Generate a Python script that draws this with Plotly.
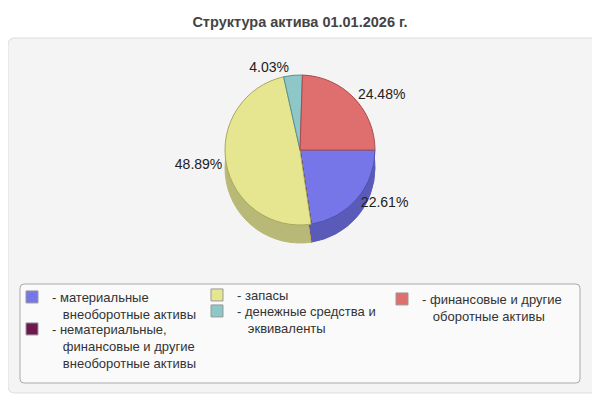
import plotly.graph_objects as go

# the page puts the figure 8px in from the top left corner
OFF = 8
W, H = 600 - OFF, 400 - OFF

title = "Структура актива 01.01.2026 г."
labels = [
    "материальные<br>внеоборотные активы",
    "нематериальные,<br>финансовые и другие<br>внеоборотные активы",
    "запасы",
    "денежные средства и<br>эквиваленты",
    "финансовые и другие<br>оборотные активы",
]
values = [22.61, 0, 48.89, 4.03, 24.48]
colors = ["#7676e9", "#6f1850", "#e6e691", "#8dc7c7", "#df6f6f"]
# sides of the back slices are hidden, the last one is the blue rim near 3 o'clock
side_colors = ["#5a5ab9", "#50103a", "#b9b977", "#6fa0a0", "#5a5ab9"]
edge_colors = ["#5050b0", "#4a0e34", "#a8a860", "#5f9090", "#a84c4c"]


def px_x(x):
    return max(x - OFF, 0) / W


def px_y(y):
    return 1 - max(y - OFF, 0) / H


def rounded_rect(x0, y0, x1, y1, r):
    # path in paper units, corners given in page pixels
    rx, ry = r / W, r / H
    a, b, c, d = px_x(x0), px_y(y0), px_x(x1), px_y(y1)
    return (f"M{a + rx},{b} L{c - rx},{b} Q{c},{b} {c},{b - ry} "
            f"L{c},{d + ry} Q{c},{d} {c - rx},{d} L{a + rx},{d} "
            f"Q{a},{d} {a},{d + ry} L{a},{b - ry} Q{a},{b} {a + rx},{b} Z")


texts = [f"{v:.2f}%" if v else "" for v in values]

fig = go.Figure()

# darker copy shifted down gives the pie some depth
fig.add_trace(go.Pie(
    values=values, labels=labels, sort=False, direction="clockwise", rotation=90,
    marker=dict(colors=side_colors, line=dict(color=side_colors, width=1)),
    textinfo="none", hoverinfo="skip", showlegend=False,
    domain=dict(x=[px_x(225), px_x(375)], y=[px_y(243), px_y(93)]),
))
fig.add_trace(go.Pie(
    values=values, labels=labels, sort=False, direction="clockwise", rotation=90,
    marker=dict(colors=colors, line=dict(color=edge_colors, width=1)),
    text=texts, textinfo="text", textposition="outside",
    outsidetextfont=dict(size=14, color="#222222"),
    showlegend=False,
    domain=dict(x=[px_x(225), px_x(375)], y=[px_y(225), px_y(75)]),
))

# legend entries: each one gets its own box so the columns match
leg_pos = [(12, 297), (12, 329), (197, 295), (197, 311), (382, 299)]
legends = {}
for i, (name, col) in enumerate(zip(labels, colors)):
    key = "legend" if i == 0 else f"legend{i + 1}"
    fig.add_trace(go.Scatter(
        x=[None], y=[None], mode="markers",
        name="- " + name.replace("<br>", "<br>&nbsp;&nbsp;&nbsp;"),
        marker=dict(symbol="square", size=12, color=col, line=dict(color="#999999", width=1)),
        legend=key,
    ))
    lx, ly = leg_pos[i]
    legends[key] = dict(x=px_x(lx), y=px_y(ly - 15), xanchor="left", yanchor="top",
                        bgcolor="rgba(0,0,0,0)", valign="top",
                        font=dict(size=13, color="#333333"))

fig.update_layout(
    width=W, height=H,
    margin=dict(l=0, r=0, t=0, b=0),
    paper_bgcolor="white", plot_bgcolor="rgba(0,0,0,0)",
    font=dict(family="Liberation Sans, Arial, sans-serif", color="#333333"),
    title=dict(text=title, x=px_x(300), xanchor="center", y=px_y(22), yanchor="middle",
               font=dict(size=14.5, color="#444444", weight="bold")),
    xaxis=dict(visible=False), yaxis=dict(visible=False),
    shapes=[
        dict(type="path", xref="paper", yref="paper", layer="below",
             path=rounded_rect(2, 38, 598, 393, 7),
             fillcolor="#f4f4f4", line=dict(color="#dddddd", width=1)),
        dict(type="path", xref="paper", yref="paper", layer="below",
             path=rounded_rect(20, 284, 580, 383, 4),
             fillcolor="#fafafa", line=dict(color="#aaaaaa", width=1)),
    ],
    **legends,
)

fig.write_html("out.html")
